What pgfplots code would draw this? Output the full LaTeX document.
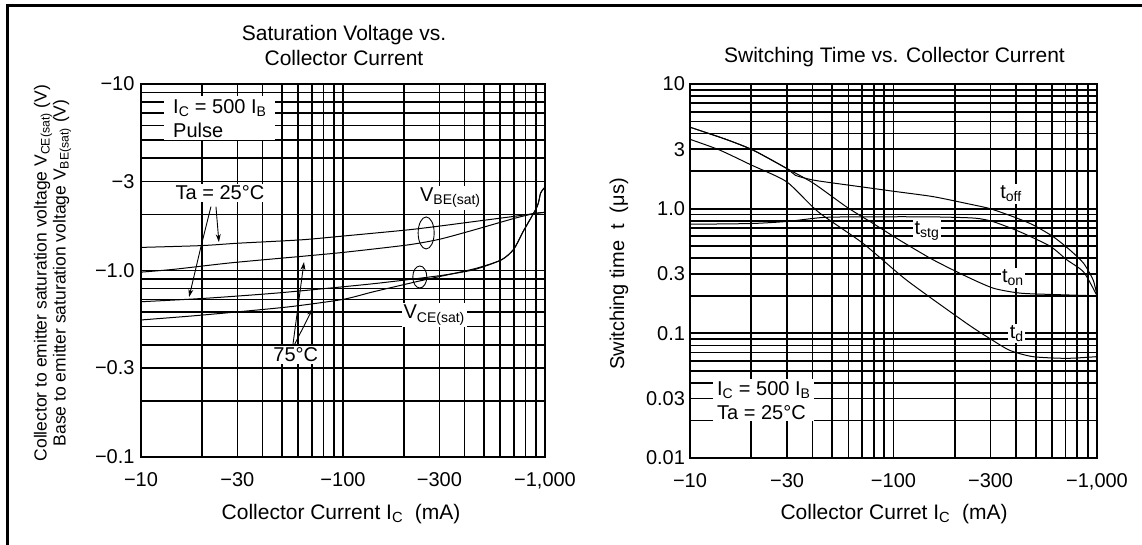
\documentclass[border=0pt]{standalone}
\usepackage{fontspec}
\setmainfont{Liberation Sans}
\usepackage{pgfplots}
\pgfplotsset{compat=1.18}
\usetikzlibrary{arrows.meta}
\tikzset{crv/.style={black, line width=1bp, smooth, tension=0.4}}
\begin{document}
\begin{tikzpicture}[font=\fontsize{20bp}{24bp}\selectfont]
\path[use as bounding box] (0,0) rectangle (1142bp,545bp);
\draw[line width=2.7bp] (7.3bp,0) -- (7.3bp,539.7bp) -- (1142bp,539.7bp);

% ---------------- left chart ----------------
\begin{axis}[xmode=log, ymode=log, scale only axis, anchor=south west,
  at={(141bp,88bp)}, width=404bp, height=373bp,
  xmin=10, xmax=1000,
  xtick={10,30,100,300,1000},
  xticklabels={−10,−30,−100,−300,{−1,000}},
  minor xtick={20,40,50,60,70,80,90,200,400,500,600,700,800,900},
  grid=both,
  major grid style={black, line width=1.7bp},
  minor grid style={black, line width=1.7bp},
  axis line style={black, line width=2bp},
  major tick length=0pt, minor tick length=0pt,
  tick label style={font=\fontsize{20bp}{24bp}\selectfont},
  xticklabel style={yshift=-12bp},
  ymin=0.1, ymax=10,
  ytick={0.1,0.3,1,3,10},
  yticklabels={−0.1,−0.3,−1.0,−3,−10},
  minor ytick={0.2,0.4,0.5,0.6,0.7,0.8,0.9,2,4,5,6,7,8,9},
  yticklabel style={xshift=-3bp}]
\node[fill=white, anchor=north west, align=left, inner xsep=9bp, inner ysep=3bp]
  at (axis cs:13.0,8.63) {I\textsubscript{C} = 500 I\textsubscript{B}\\Pulse};
\node[fill=white, inner sep=2bp] at (axis cs:24.6,2.60) {Ta = 25°C};
\node[fill=white, inner sep=2bp] at (axis cs:58.4,0.352) {75°C};
\node[fill=white, inner sep=2bp] at (axis cs:340,2.45) {V\textsubscript{BE(sat)}};
\node[fill=white, inner sep=2bp] at (axis cs:283,0.577) {V\textsubscript{CE(sat)}};
% V_BE(sat) 25C
\addplot[crv] coordinates {(10,1.33) (20,1.36) (30,1.40) (62,1.46) (100,1.53) (208,1.65) (300,1.73) (445,1.83) (700,1.95) (884,2.02) (1000,2.05)};
% V_BE(sat) 75C
\addplot[crv] coordinates {(10,0.98) (14.6,1.015) (28,1.10) (62,1.19) (100,1.25) (208,1.37) (300,1.47) (445,1.65) (700,1.90) (884,2.02) (1000,2.05)};
% V_CE(sat) 25C
\addplot[crv] coordinates {(10,0.68) (21,0.71) (49,0.76) (142,0.85) (305,0.94) (445,1.01) (608,1.14) (700,1.30) (780,1.62) (914,2.2) (951,2.6) (1000,2.8)};
% V_CE(sat) 75C
\addplot[crv] coordinates {(10,0.543) (17.7,0.57) (30,0.60) (55,0.64) (100,0.70) (142,0.77) (252,0.89) (445,1.02) (608,1.14) (700,1.30) (780,1.62) (914,2.2) (951,2.6) (1000,2.8)};
% annotations
\draw[line width=0.9bp] (axis cs:258,1.59) ellipse [x radius=8bp, y radius=16bp];
\draw[line width=0.9bp] (axis cs:240,0.923) ellipse [x radius=7bp, y radius=11bp];
\draw[line width=0.9bp, -{Stealth[length=8bp,width=5bp]}] (axis cs:23.5,2.2) -- (axis cs:24.3,1.42);
\draw[line width=0.9bp, -{Stealth[length=8bp,width=5bp]}] (axis cs:22.2,2.2) -- (axis cs:19.8,1.34) -- (axis cs:17.3,0.72);
\draw[line width=0.9bp, -{Stealth[length=8bp,width=5bp]}] (axis cs:56.5,0.40) -- (axis cs:64.1,1.11);
\draw[line width=0.9bp, -{Stealth[length=8bp,width=5bp]}] (axis cs:57.5,0.40) -- (axis cs:70.9,0.627);
\end{axis}

% ---------------- right chart ----------------
\begin{axis}[xmode=log, ymode=log, scale only axis, anchor=south west,
  at={(690bp,87bp)}, width=407bp, height=374bp,
  xmin=10, xmax=1000,
  xtick={10,30,100,300,1000},
  xticklabels={−10,−30,−100,−300,{−1,000}},
  minor xtick={20,40,50,60,70,80,90,200,400,500,600,700,800,900},
  grid=both,
  major grid style={black, line width=1.7bp},
  minor grid style={black, line width=1.7bp},
  axis line style={black, line width=2bp},
  major tick length=0pt, minor tick length=0pt,
  tick label style={font=\fontsize{20bp}{24bp}\selectfont},
  xticklabel style={yshift=-12bp},
  ymin=0.01, ymax=10,
  ytick={0.01,0.03,0.1,0.3,1,3,10},
  yticklabels={0.01,0.03,0.1,0.3,1.0,3,10},
  minor ytick={0.02,0.04,0.05,0.06,0.07,0.08,0.09,0.2,0.4,0.5,0.6,0.7,0.8,0.9,2,4,5,6,7,8,9},
  yticklabel style={xshift=-1.5bp}]
\node[fill=white, anchor=north west, align=left, inner xsep=4bp, inner ysep=2bp]
  at (axis cs:12.97,0.043) {I\textsubscript{C} = 500 I\textsubscript{B}\\Ta = 25°C};
\node[fill=white, inner sep=1.5bp] at (axis cs:378,1.31) {t\textsubscript{off}};
\node[fill=white, inner sep=1.5bp] at (axis cs:146,0.661) {t\textsubscript{stg}};
\node[fill=white, inner sep=1.5bp] at (axis cs:386,0.278) {t\textsubscript{on}};
\node[fill=white, inner sep=1.5bp] at (axis cs:403,0.1) {t\textsubscript{d}};
% t_on
\addplot[crv] coordinates {(10,4.5) (15,3.6) (20.4,2.95) (29.9,2.1) (40.4,1.6) (58.9,1.03) (79.5,0.76) (107,0.56) (156,0.39) (229,0.285) (310,0.23) (420,0.21) (600,0.205) (1000,0.2)};
% t_off
\addplot[crv] coordinates {(10,4.5) (15,3.6) (20.4,2.95) (29.9,2.1) (33,1.85) (40,1.7) (50,1.61) (73,1.48) (99.6,1.38) (156,1.25) (229,1.10) (298,1.0) (389,0.86) (486,0.74) (610,0.595) (736,0.466) (860,0.364) (958,0.267) (1000,0.2)};
% t_stg
\addplot[crv] coordinates {(10,0.75) (20,0.76) (30,0.79) (45,0.85) (70,0.86) (150,0.86) (250,0.84) (310,0.785) (420,0.65) (588,0.5) (709,0.39) (860,0.31) (1000,0.2)};
% t_d
\addplot[crv] coordinates {(10,3.6) (14,2.95) (20,2.24) (29.9,1.64) (42.6,0.944) (70.8,0.527) (116,0.267) (229,0.12) (300,0.09) (373,0.073) (484,0.065) (709,0.063) (1000,0.065)};
\end{axis}

% titles and labels
\node at (344bp,510bp) {\fontsize{21bp}{24bp}\selectfont Saturation Voltage vs.};
\node at (344bp,487.5bp) {\fontsize{21bp}{24bp}\selectfont Collector Current};
\node at (894.5bp,488bp) {\fontsize{21bp}{24bp}\selectfont Switching Time vs. Collector Current};
\node at (341bp,31bp) {\fontsize{21bp}{24bp}\selectfont Collector Current I\textsubscript{C}\ \ (mA)};
\node at (894bp,31bp) {\fontsize{21bp}{24bp}\selectfont Collector Curret I\textsubscript{C}\ \ (mA)};
\node[rotate=90] at (43bp,272bp) {\fontsize{17.5bp}{20bp}\selectfont Collector to emitter saturation voltage V\textsubscript{CE(sat)} (V)};
\node[rotate=90] at (62bp,272bp) {\fontsize{17.5bp}{20bp}\selectfont Base to emitter saturation voltage V\textsubscript{BE(sat)} (V)};
\node[rotate=90] at (619bp,271bp) {\fontsize{20bp}{24bp}\selectfont Switching time\ \ t\ \ (μs)};
\end{tikzpicture}
\end{document}
